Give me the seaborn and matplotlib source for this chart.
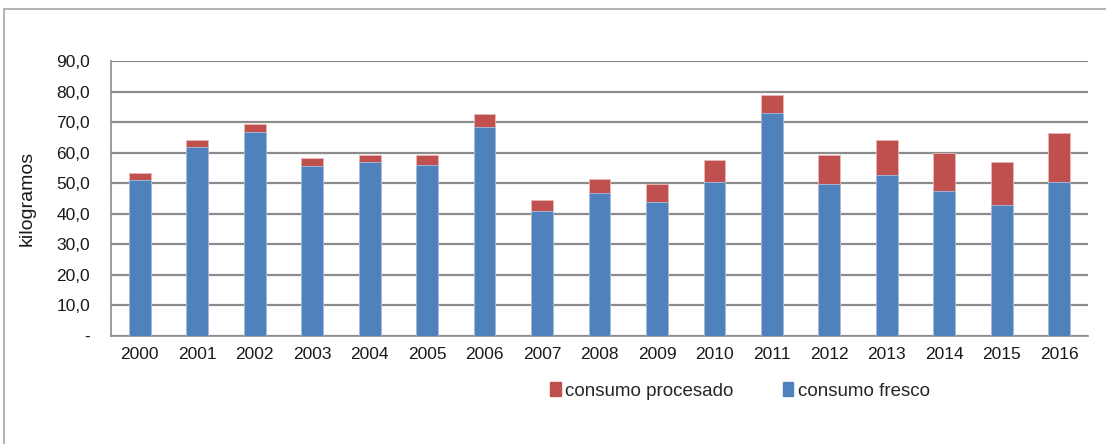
import matplotlib
matplotlib.use('Agg')

import matplotlib.pyplot as plt
import matplotlib.patches as mpatches
import seaborn as sns
import pandas as pd

# Values (kg)
years = ['2000', '2001', '2002', '2003', '2004', '2005', '2006', '2007', '2008',
         '2009', '2010', '2011', '2012', '2013', '2014', '2015', '2016']
fresco = [50.9, 61.7, 66.8, 55.5, 57.1, 56.0, 68.3, 40.8, 46.8,
          43.8, 50.5, 73.0, 49.9, 52.6, 47.4, 42.8, 50.5]
procesado = [2.6, 2.6, 2.7, 2.6, 2.0, 3.1, 4.2, 3.6, 4.7,
             6.1, 7.1, 6.0, 9.2, 11.7, 12.4, 14.3, 15.8]
ytick_values = [0, 10, 20, 30, 40, 50, 60, 70, 80, 90]

BLUE = '#4F81BD'
RED = '#C0504D'
GRID = '#8C8C8C'

df = pd.DataFrame({'anio': years, 'fresco': fresco, 'procesado': procesado})
df['total'] = df['fresco'] + df['procesado']

sns.set_style('white')
plt.rcParams['font.family'] = ['Liberation Sans', 'DejaVu Sans']

fig = plt.figure(figsize=(11.06, 4.44), dpi=100)
ax = fig.add_axes([111 / 1106, 1 - 336 / 444, (1088 - 111) / 1106, (336 - 61) / 444])

# stacked bars: total (red) behind, fresh (blue) in front
sns.barplot(data=df, x='anio', y='total', color=RED, width=0.38, saturation=1,
            ax=ax, zorder=2, edgecolor='#E8B8B6', linewidth=0.6)
sns.barplot(data=df, x='anio', y='fresco', color=BLUE, width=0.38, saturation=1,
            ax=ax, zorder=3, edgecolor='#A9C0E0', linewidth=0.6)

ax.set_ylim(0, 90)
ax.set_xlim(-0.5, len(years) - 0.5)
ax.set_yticks(ytick_values)
ax.set_yticklabels(['-' if v == 0 else f'{v:.1f}'.replace('.', ',') for v in ytick_values])
ax.yaxis.grid(True, color=GRID, linewidth=1.6, zorder=0)
ax.set_axisbelow(True)

# category ticks between bars (Excel style)
ax.set_xticks([i + 0.5 for i in range(-1, len(years))], minor=True)
ax.tick_params(axis='x', which='major', length=0, pad=8, labelsize=12.5, colors='#1a1a1a')
ax.tick_params(axis='x', which='minor', length=7, width=1.2, color=GRID)
ax.tick_params(axis='y', which='major', length=7, width=1.2, color=GRID, pad=8,
               labelsize=12.5, labelcolor='#1a1a1a')

for side in ['top', 'right']:
    ax.spines[side].set_visible(False)
for side in ['left', 'bottom']:
    ax.spines[side].set_color(GRID)
    ax.spines[side].set_linewidth(1.2)

ax.set_xlabel('')
ax.set_ylabel('kilogramos', fontsize=14, color='#1a1a1a')
ax.yaxis.set_label_coords(-75 / 977, 0.5)

handles = [mpatches.Patch(color=RED, label='consumo procesado'),
           mpatches.Patch(color=BLUE, label='consumo fresco')]
fig.legend(handles=handles, loc='center', bbox_to_anchor=(740 / 1106, 1 - 391 / 444),
           ncol=2, frameon=False, fontsize=13.5, handlelength=0.55, handleheight=0.7,
           handletextpad=0.25, columnspacing=2.6)

# outer chart frame
fig.patches.append(mpatches.Rectangle((4 / 1106, -0.1), 1.2, 1.1 - 9 / 444,
                                      transform=fig.transFigure, fill=False,
                                      edgecolor='#A6A6A6', linewidth=1.2))

fig.savefig('out.png', dpi=100)
plt.close(fig)
